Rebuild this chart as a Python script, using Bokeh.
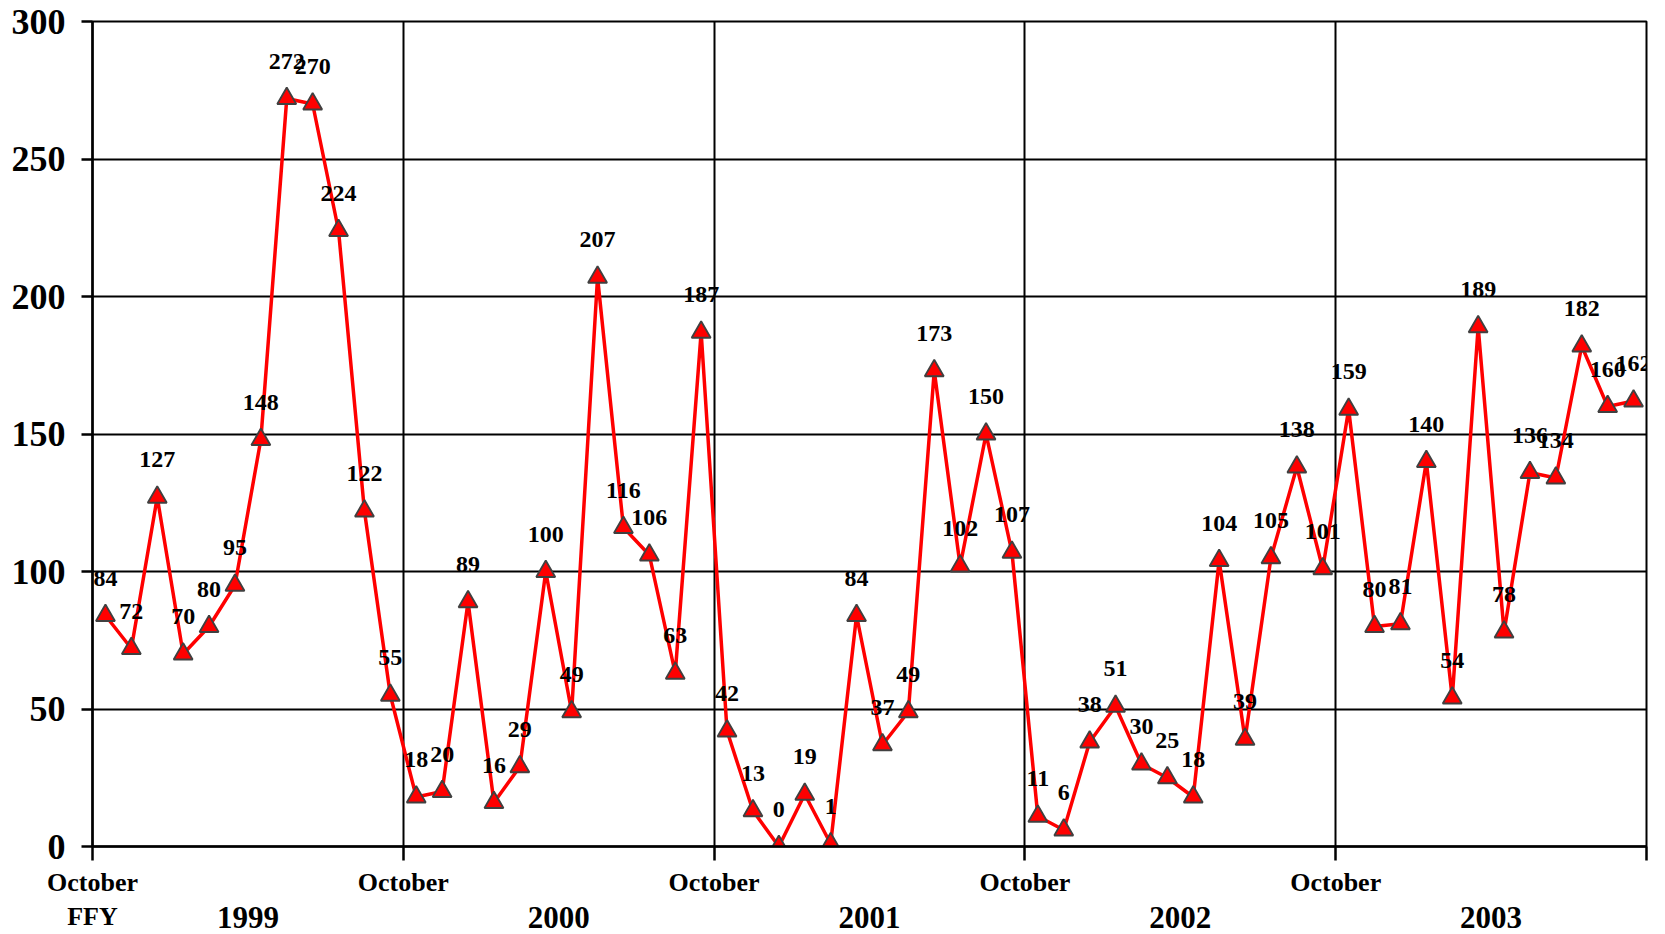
from bokeh.plotting import figure
from bokeh.models import ColumnDataSource, Range1d, FixedTicker, LabelSet, LinearAxis
from bokeh.embed import file_html
from bokeh.resources import INLINE

# Monthly counts, October 1998 .. September 2003 (federal fiscal years 1999-2003)
fy1999 = [84, 72, 127, 70, 80, 95, 148, 272, 270, 224, 122, 55]
fy2000 = [18, 20, 89, 16, 29, 100, 49, 207, 116, 106, 63, 187]
fy2001 = [42, 13, 0, 19, 1, 84, 37, 49, 173, 102, 150, 107]
fy2002 = [11, 6, 38, 51, 30, 25, 18, 104, 39, 105, 138, 101]
fy2003 = [159, 80, 81, 140, 54, 189, 78, 136, 134, 182, 160, 162]
years = ["1999", "2000", "2001", "2002", "2003"]
y_ticks = [0, 50, 100, 150, 200, 250, 300]
month_tick_label = "October"
ffy_label = "FFY"

counts = fy1999 + fy2000 + fy2001 + fy2002 + fy2003
month = list(range(len(counts)))
n_years = len(years)

FONT = "Liberation Serif"

src = ColumnDataSource(dict(x=month, y=counts, t=[str(v) for v in counts]))

p = figure(width=1665, height=934, output_backend="svg", toolbar_location=None,
           x_range=Range1d(-0.5, 12 * n_years - 0.5), y_range=Range1d(0, 300),
           min_border_left=92, min_border_right=19, min_border_top=21, min_border_bottom=85)

p.background_fill_color = "white"
p.border_fill_color = "white"
p.outline_line_color = "black"
p.outline_line_width = 2

oct_ticks = [12 * k - 0.5 for k in range(n_years + 1)]

# grids
p.xgrid.ticker = FixedTicker(ticks=oct_ticks)
p.ygrid.ticker = FixedTicker(ticks=y_ticks)
for g in (p.xgrid, p.ygrid):
    g.grid_line_color = "black"
    g.grid_line_width = 2

# y axis
p.yaxis.ticker = FixedTicker(ticks=y_ticks)
p.yaxis.axis_line_color = "black"
p.yaxis.axis_line_width = 2.5
p.yaxis.major_tick_out = 11
p.yaxis.major_tick_in = 0
p.yaxis.major_tick_line_width = 2.5
p.yaxis.minor_tick_line_color = None
p.yaxis.major_label_standoff = 16
p.yaxis.major_label_text_font = FONT
p.yaxis.major_label_text_font_style = "bold"
p.yaxis.major_label_text_font_size = "36px"
p.yaxis.major_label_text_color = "black"

# x axis (October ticks, first one also carries "FFY")
overrides = {}
for i, t in enumerate(oct_ticks):
    if i == 0:
        overrides[t] = month_tick_label + "\n" + ffy_label
    elif i < n_years:
        overrides[t] = month_tick_label
    else:
        overrides[t] = ""
p.xaxis.ticker = FixedTicker(ticks=oct_ticks)
p.xaxis.major_label_overrides = overrides
p.xaxis.axis_line_color = "black"
p.xaxis.axis_line_width = 2.5
p.xaxis.major_tick_out = 14
p.xaxis.major_tick_in = 0
p.xaxis.major_tick_line_width = 2.5
p.xaxis.minor_tick_line_color = None
p.xaxis.major_label_standoff = 7
p.xaxis.major_label_text_font = FONT
p.xaxis.major_label_text_font_style = "bold"
p.xaxis.major_label_text_font_size = "26px"
p.xaxis.major_label_text_color = "black"

# year axis
year_ticks = [12 * k + 5.5 for k in range(n_years)]
yax = LinearAxis(ticker=FixedTicker(ticks=year_ticks),
                 major_label_overrides={t: y for t, y in zip(year_ticks, years)},
                 axis_line_color=None, major_tick_line_color=None, minor_tick_line_color=None,
                 major_tick_out=0, major_tick_in=0, major_label_standoff=-28,
                 major_label_text_font=FONT, major_label_text_font_style="bold",
                 major_label_text_font_size="31px", major_label_text_color="black")
p.add_layout(yax, "below")

# data
p.line("x", "y", source=src, line_color="#ff0000", line_width=3.5)
p.scatter("x", "y", source=src, marker="triangle", size=19,
          fill_color="#ff0000", line_color="#404040", line_width=1.8)

labels = LabelSet(x="x", y="y", text="t", source=src, y_offset=30,
                  text_align="center", text_baseline="bottom",
                  text_font=FONT, text_font_style="bold", text_font_size="24px",
                  text_color="black")
p.add_layout(labels)

open("out.html", "w").write(file_html(p, INLINE))
